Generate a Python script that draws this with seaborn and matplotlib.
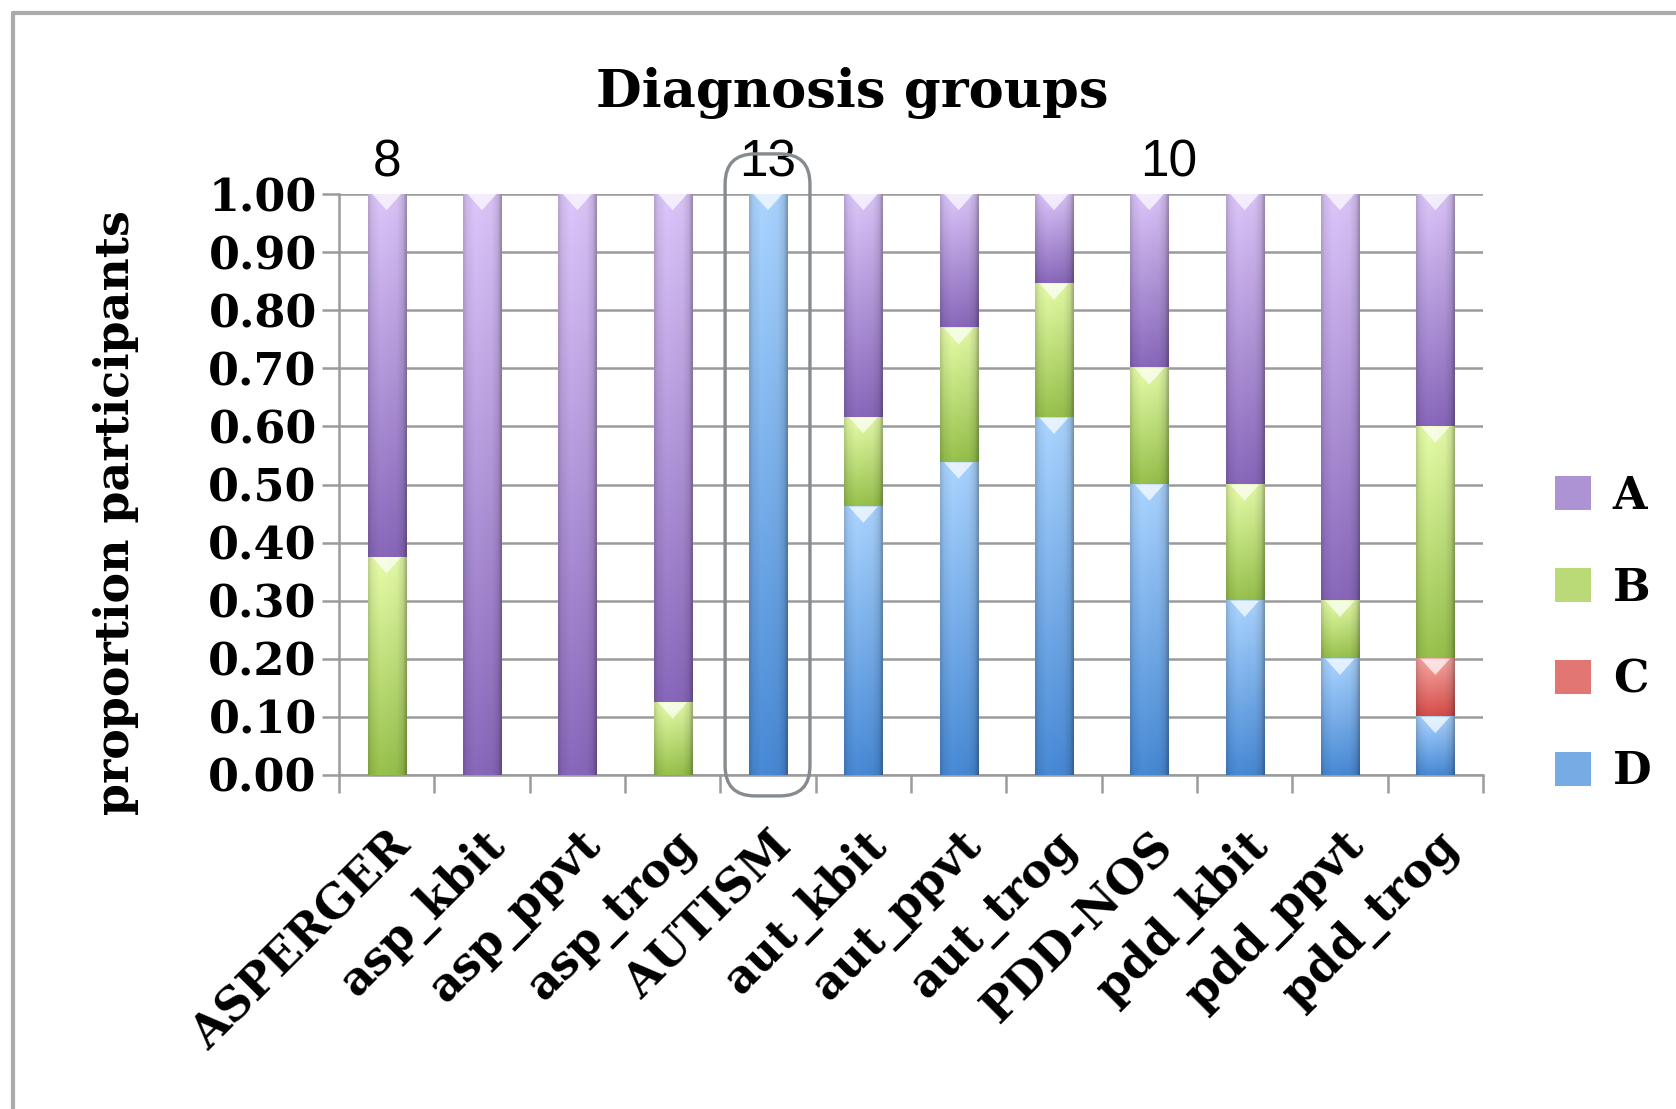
import numpy as np
import pandas as pd
import matplotlib
matplotlib.use("Agg")
import matplotlib.pyplot as plt
import seaborn as sns
from matplotlib.patches import FancyBboxPatch, Patch, Polygon
from matplotlib.lines import Line2D
from matplotlib.colors import to_rgb
from matplotlib.transforms import IdentityTransform, ScaledTranslation

# ---- data -------------------------------------------------------------
groups = ["ASPERGER", "asp_kbit", "asp_ppvt", "asp_trog", "AUTISM",
          "aut_kbit", "aut_ppvt", "aut_trog", "PDD-NOS",
          "pdd_kbit", "pdd_ppvt", "pdd_trog"]
prop_D = [0.0, 0.0, 0.0, 0.0, 1.0, 0.462, 0.538, 0.615, 0.5, 0.3, 0.2, 0.1]
prop_C = [0.0, 0.0, 0.0, 0.0, 0.0, 0.0, 0.0, 0.0, 0.0, 0.0, 0.0, 0.1]
prop_B = [0.375, 0.0, 0.0, 0.125, 0.0, 0.154, 0.231, 0.231, 0.2, 0.2, 0.1, 0.4]
prop_A = [0.625, 1.0, 1.0, 0.875, 0.0, 0.384, 0.231, 0.154, 0.3, 0.5, 0.7, 0.4]
series_names = ["A", "B", "C", "D"]
group_n_labels = ["8", "13", "10"]
group_n_pos = [0.0, 4.0, 8.2]
y_ticks = [0.0, 0.1, 0.2, 0.3, 0.4, 0.5, 0.6, 0.7, 0.8, 0.9, 1.0]

# glossy fill: (top colour, bottom colour) per series
shades = {
    "A": ("#d6c0f3", "#8565b6"),
    "B": ("#e0f6a4", "#93bc4a"),
    "C": ("#f2a29e", "#d04a46"),
    "D": ("#a6cff9", "#4686d0"),
}
mid = {k: tuple((np.array(to_rgb(a)) + np.array(to_rgb(b))) / 2) for k, (a, b) in shades.items()}

cum_D = np.array(prop_D)
cum_C = cum_D + np.array(prop_C)
cum_B = cum_C + np.array(prop_B)
cum_A = cum_B + np.array(prop_A)
layers = [("A", cum_A, cum_B), ("B", cum_B, cum_C), ("C", cum_C, cum_D), ("D", cum_D, np.zeros(len(groups)))]

# ---- figure ------------------------------------------------------------
sns.set_theme(style="white")
plt.rcParams["font.family"] = ["DejaVu Serif"]
plt.rcParams["font.weight"] = "bold"
plt.rcParams["text.color"] = "black"

W, H, DPI = 1676, 1109, 100
fig = plt.figure(figsize=(W / DPI, H / DPI), dpi=DPI)
ax = fig.add_axes([339 / W, 1 - 775 / H, (1483 - 339) / W, (775 - 194) / H])

grid_col = "#9b9b9b"


def gloss(top, bottom, ny=64, nx=24):
    t = np.array(to_rgb(top))
    b = np.array(to_rgb(bottom))
    f = np.linspace(0, 1, ny)[:, None]
    col = t[None, :] * (1 - f) + b[None, :] * f
    xs = np.linspace(0, 1, nx)
    hx = np.interp(xs, [0, 0.08, 0.3, 0.75, 0.92, 1.0], [0.86, 0.96, 1.03, 1.0, 0.9, 0.72])
    img = col[:, None, :] * hx[None, :, None]
    return np.clip(img, 0, 1)


for name, upper, lower in layers:
    n_before = len(ax.patches)
    sns.barplot(x=groups, y=upper, order=groups, color=mid[name], saturation=1,
                width=0.4, edgecolor="none", linewidth=0, ax=ax)
    new_patches = ax.patches[n_before:]
    for p, lo, hi in zip(new_patches, lower, upper):
        if hi - lo < 1e-6:
            continue
        x0, w = p.get_x(), p.get_width()
        ax.imshow(gloss(*shades[name]), extent=(x0, x0 + w, lo, hi), aspect="auto",
                  origin="upper", interpolation="bilinear", zorder=3)
        # white chevron highlight at the top of each segment
        ch = min(0.028, (hi - lo) * 0.5)
        ax.add_patch(Polygon([(x0 + w * 0.12, hi), (x0 + w * 0.88, hi), (x0 + w / 2, hi - ch)],
                             closed=True, facecolor="white", edgecolor="none", alpha=0.7, zorder=4))

ax.set_xlim(-0.5, len(groups) - 0.5)
ax.set_ylim(0, 1.0)
ax.set_axisbelow(True)

# horizontal grid and axes lines
ax.set_yticks(y_ticks)
ax.set_yticklabels([f"{v:.2f}" for v in y_ticks], fontsize=32, fontweight="bold",
                   fontfamily="DejaVu Serif")
ax.yaxis.grid(True, color=grid_col, linewidth=1.8)
ax.xaxis.grid(False)
for s in ["top", "right"]:
    ax.spines[s].set_visible(False)
for s in ["left", "bottom"]:
    ax.spines[s].set_color(grid_col)
    ax.spines[s].set_linewidth(1.8)
ax.tick_params(axis="y", which="major", left=True, length=12, width=1.8, color=grid_col,
               pad=4, labelcolor="black")

ax.set_xticks(range(len(groups)))
ax.set_xticklabels(groups, rotation=45, ha="right", va="center", rotation_mode="anchor",
                   fontsize=33, fontweight="bold", fontfamily="DejaVu Serif")
ax.set_xticks(np.arange(-0.5, len(groups), 1.0), minor=True)
ax.tick_params(axis="x", which="major", bottom=True, length=0, pad=46, labelcolor="black")
ax.tick_params(axis="x", which="minor", bottom=True, length=13, width=1.8, color=grid_col)
shift = ScaledTranslation(12 / 72, 0, fig.dpi_scale_trans)
for lbl in ax.get_xticklabels():
    lbl.set_transform(lbl.get_transform() + shift)
ax.set_xlabel("")
ax.set_ylabel("")

# group sizes above the bars
for lab, xp in zip(group_n_labels, group_n_pos):
    ax.text(xp, 1.053, lab, ha="center", va="center", fontsize=37, color="black",
            fontfamily="Liberation Sans", fontweight="normal", clip_on=False)

# titles
fig.text(852 / W, 1 - 93 / H, "Diagnosis groups", ha="center", va="center",
         fontsize=38, fontweight="bold", fontfamily="DejaVu Serif", color="black")
fig.text(116 / W, 1 - 513 / H, "proportion participants", ha="center", va="center",
         rotation=90, fontsize=33, fontweight="bold", fontfamily="DejaVu Serif", color="black")

# legend
handles = [Patch(facecolor=mid[k], edgecolor="none") for k in series_names]
leg = fig.legend(handles, series_names, loc="center left",
                 bbox_to_anchor=(1555 / W, 1 - 634 / H), bbox_transform=fig.transFigure,
                 frameon=False, handlelength=0.8, handleheight=0.8,
                 handletextpad=0.5, labelspacing=1.1, borderpad=0, borderaxespad=0,
                 prop={"family": "DejaVu Serif", "weight": "bold", "size": 32})
for t in leg.get_texts():
    t.set_color("black")

# rounded outline around the AUTISM bar
fig.canvas.draw()
autism_idx = groups.index("AUTISM")
(px0, py0) = ax.transData.transform((autism_idx - 0.45, -0.036))
(px1, py1) = ax.transData.transform((autism_idx + 0.44, 1.069))
box = FancyBboxPatch((px0, py0), px1 - px0, py1 - py0,
                     boxstyle="round,pad=0,rounding_size=30",
                     transform=IdentityTransform(), facecolor="none",
                     edgecolor="#868b90", linewidth=2.4, zorder=10)
fig.add_artist(box)

# outer frame (left and top edges)
fig.add_artist(Line2D([13 / W, 13 / W], [0, 1 - 13 / H], transform=fig.transFigure,
                      color="#ababab", linewidth=3))
fig.add_artist(Line2D([13 / W, 1], [1 - 13 / H, 1 - 13 / H], transform=fig.transFigure,
                      color="#ababab", linewidth=3))

fig.savefig("out.png", dpi=DPI)
